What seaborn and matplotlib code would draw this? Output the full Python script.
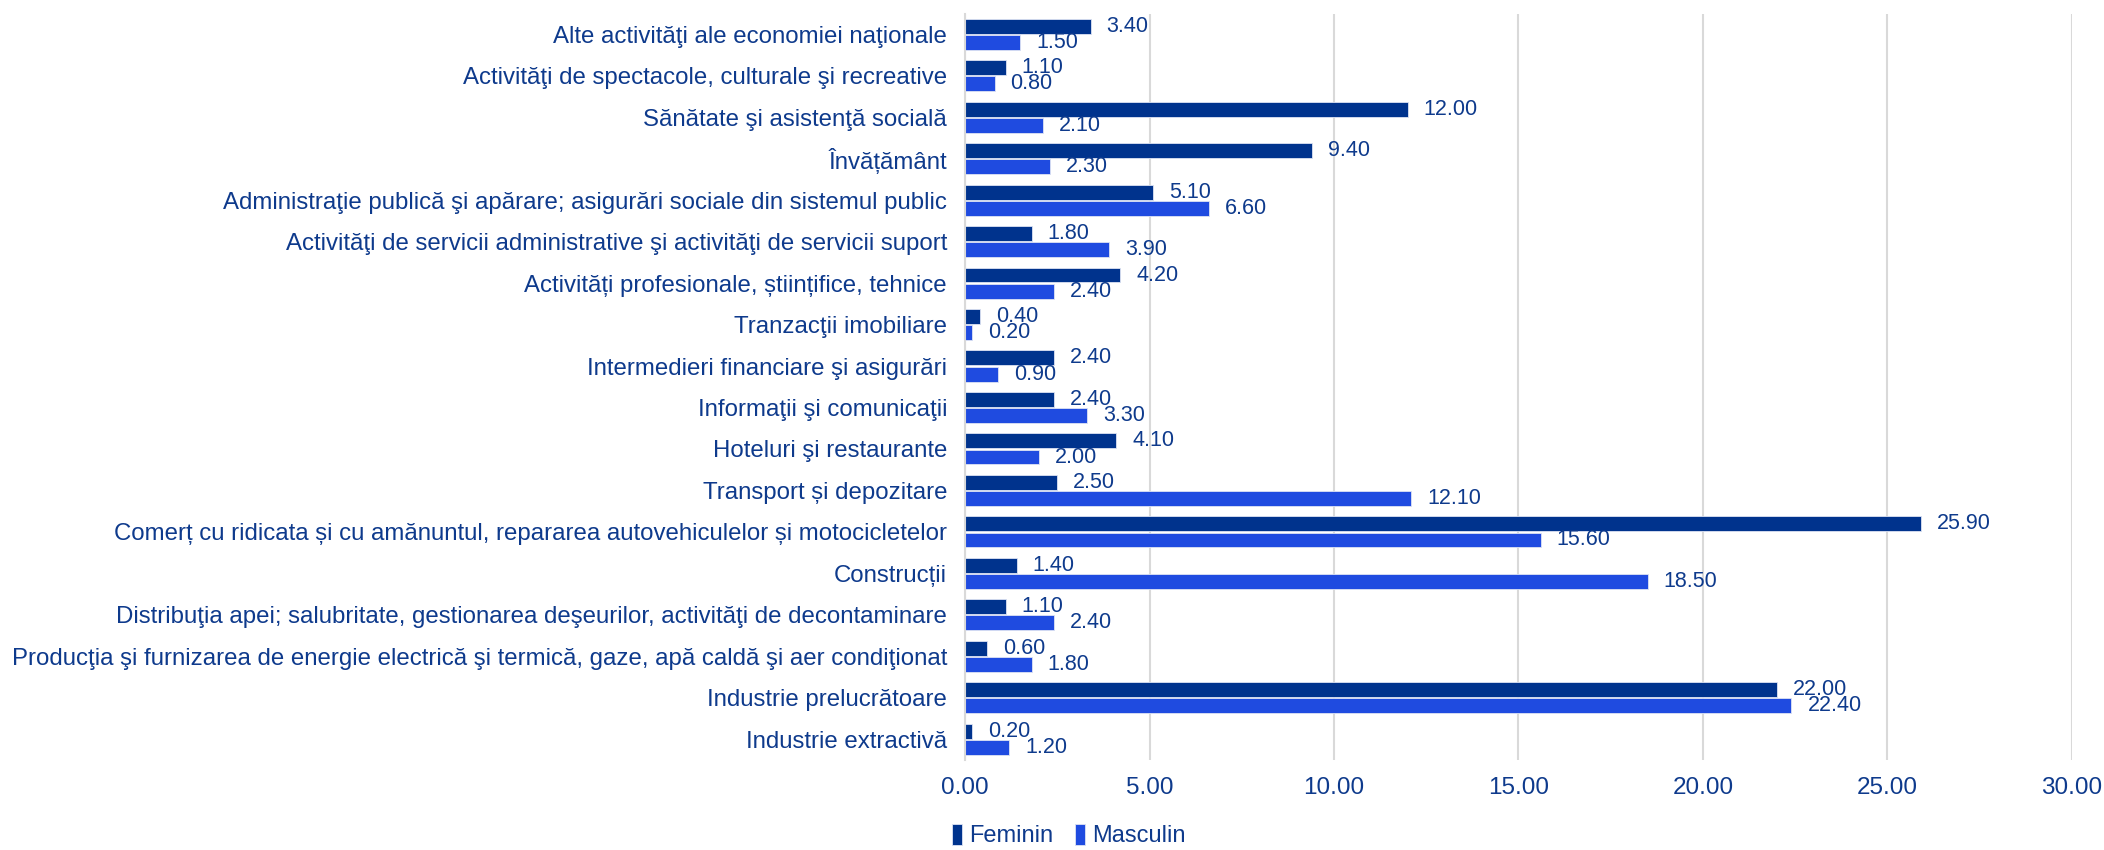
import pandas as pd
import numpy as np
import matplotlib
matplotlib.use("Agg")
import matplotlib.pyplot as plt
import seaborn as sns

# Date: ponderea pe activitati, feminin / masculin
activitati = [
    "Alte activităţi ale economiei naţionale",
    "Activităţi de spectacole, culturale şi recreative",
    "Sănătate şi asistenţă socială",
    "Învățământ",
    "Administraţie publică şi apărare; asigurări sociale din sistemul public",
    "Activităţi de servicii administrative şi activităţi de servicii suport",
    "Activități profesionale, științifice, tehnice",
    "Tranzacţii imobiliare",
    "Intermedieri financiare şi asigurări",
    "Informaţii şi comunicaţii",
    "Hoteluri şi restaurante",
    "Transport și depozitare",
    "Comerț cu ridicata și cu amănuntul, repararea autovehiculelor și motocicletelor",
    "Construcții",
    "Distribuţia apei; salubritate, gestionarea deşeurilor, activităţi de decontaminare",
    "Producţia şi furnizarea de energie electrică şi termică, gaze, apă caldă şi aer condiţionat",
    "Industrie prelucrătoare",
    "Industrie extractivă",
]
feminin = [3.40, 1.10, 12.00, 9.40, 5.10, 1.80, 4.20, 0.40, 2.40, 2.40, 4.10, 2.50, 25.90, 1.40, 1.10, 0.60, 22.00, 0.20]
masculin = [1.50, 0.80, 2.10, 2.30, 6.60, 3.90, 2.40, 0.20, 0.90, 3.30, 2.00, 12.10, 15.60, 18.50, 2.40, 1.80, 22.40, 1.20]
x_ticks = [0, 5, 10, 15, 20, 25, 30]

df = pd.DataFrame({"Activitate": activitati, "Feminin": feminin, "Masculin": masculin})
df_long = df.melt(id_vars="Activitate", var_name="Sex", value_name="Procent")

txt_color = "#0E3A8C"
culori = {"Feminin": "#00338D", "Masculin": "#1F4BE0"}

sns.set_style("white")
plt.rcParams['font.family'] = ['Liberation Sans', 'DejaVu Sans']

fig = plt.figure(figsize=(21.04, 8.5), dpi=100)
ax = fig.add_axes([0.4587, 0.106, 0.526, 0.878])

sns.barplot(data=df_long, y="Activitate", x="Procent", hue="Sex", palette=culori,
            order=activitati, orient="h", width=0.78, gap=0.08, saturation=1,
            edgecolor="#DDE3F3", linewidth=0.6, ax=ax)

for cont in ax.containers:
    ax.bar_label(cont, fmt="%.2f", padding=11.5, fontsize=15.5, color=txt_color)

ax.set_xlim(0, 30)
ax.set_xticks(x_ticks)
ax.set_xticklabels([f"{t:.2f}" for t in x_ticks])
ax.set_xlabel("")
ax.set_ylabel("")
ax.xaxis.grid(True, color="#D9D9D9", linewidth=1.5)
ax.set_axisbelow(True)
for s in ["top", "right", "bottom"]:
    ax.spines[s].set_visible(False)
ax.spines["left"].set_color("#D9D9D9")
ax.spines["left"].set_linewidth(1.5)
ax.tick_params(axis="y", length=0, pad=13, labelsize=17.25, labelcolor=txt_color)
ax.tick_params(axis="x", length=0, pad=12, labelsize=17.5, labelcolor=txt_color)

handles, labels = ax.get_legend_handles_labels()
ax.legend_.remove()
fig.legend(handles, labels, loc="center", bbox_to_anchor=(0.508, 0.017), ncol=2,
           frameon=False, fontsize=17, labelcolor=txt_color,
           handlelength=0.45, handleheight=1.0, handletextpad=0.3, columnspacing=0.9)

fig.savefig("out.png", dpi=100)
